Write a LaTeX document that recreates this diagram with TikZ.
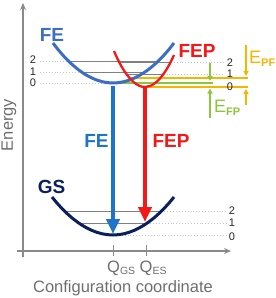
\documentclass[tikz,border=0pt]{standalone}
\usepackage{fontspec}
\setmainfont{Liberation Sans}
\usetikzlibrary{arrows.meta}
\definecolor{feblue}{HTML}{3D6EC6}
\definecolor{arrowblue}{HTML}{1E74C8}
\definecolor{fepred}{HTML}{F41818}
\definecolor{gsnavy}{HTML}{0B1F5E}
\definecolor{axisgray}{HTML}{8A8A8A}
\definecolor{textgray}{HTML}{6E6E6E}
\definecolor{efpgreen}{HTML}{8CC63F}
\definecolor{epforange}{HTML}{F7B500}

\begin{document}
\begin{tikzpicture}[x=1pt, y=-1pt, >=Stealth,
  axis/.style={draw=axisgray, line width=1.6pt},
  curve/.style={line width=3pt},
  level/.style={draw=gray, line width=1pt},
  guide/.style={draw=gray!45, dotted, line width=0.9pt},
  vib/.style={font=\fontsize{11}{12}\selectfont, text=black!85, inner sep=0pt},
  big/.style={font=\fontsize{19}{21}\selectfont\bfseries, inner sep=0pt, anchor=base},
  axislabel/.style={font=\fontsize{16.5}{18}\selectfont, text=textgray, inner sep=0pt},
  transition/.style={line width=3.8pt, -{Triangle[width=13pt,length=15pt]}},
  gap/.style={line width=1.3pt, -{Triangle[width=5pt,length=5pt]}}]
  \useasboundingbox (0,0) rectangle (276,298);

  \coordinate (ybot) at (23,257);
  \coordinate (ytop) at (23,3);
  \coordinate (xbeg) at (17,251);
  \coordinate (xend) at (231,251);
  \draw[axis, -{Stealth[length=7pt,width=6pt]}] (ybot) -- (ytop);
  \draw[axis, -{Stealth[length=7pt,width=6pt]}] (xbeg) -- (xend);
  \draw[axis, line width=1pt] (113,245) -- (113,256);
  \draw[axis, line width=1pt] (146,245) -- (146,256);

  \node[axislabel, rotate=90] (energy) at (9,125) {Energy};
  \node[axislabel, anchor=base] (config) at (123,292) {Configuration coordinate};
  \node[axislabel, anchor=base west] (qgs) at (107,272) {Q\raisebox{-2.5pt}{\fontsize{10.5}{11}\selectfont GS}};
  \node[axislabel, anchor=base west] (qes) at (139.5,272) {Q\raisebox{-2.5pt}{\fontsize{10.5}{11}\selectfont ES}};

  \draw[guide] (40,61) -- (68.5,61);
  \draw[guide] (40,72) -- (81.5,72);
  \draw[guide] (40,83) -- (113,83);
  \draw[level] (68.5,61) -- (157.5,61);
  \draw[level] (81.5,72) -- (144.5,72);
  \draw[level] (119.2,62) -- (170.8,62);
  \draw[level] (126.4,74) -- (163.6,74);
  \draw[guide] (170.8,62) -- (224,62);
  \draw[guide] (163.6,74) -- (224,74);
  \draw[draw=epforange, line width=1.4pt] (130,78) -- (248,78);
  \draw[draw=efpgreen, line width=1.2pt] (113,83) -- (213,83);
  \draw[draw=epforange, line width=1.4pt] (145,87) -- (248,87);

  \draw[level] (64.5,211) -- (161.5,211);
  \draw[level] (78.7,223) -- (147.3,223);
  \draw[guide] (161.5,211) -- (227,211);
  \draw[guide] (147.3,223) -- (227,223);
  \draw[guide] (113,235) -- (227,235);

  \node[vib] (fe2) at (33,60) {2};
  \node[vib] (fe1) at (33,72) {1};
  \node[vib] (fe0) at (33,83) {0};
  \node[vib] (fep2) at (230,63) {2};
  \node[vib] (fep1) at (230,74) {1};
  \node[vib] (fep0) at (230,87) {0};
  \node[vib] (gs2) at (232,211) {2};
  \node[vib] (gs1) at (232,223) {1};
  \node[vib] (gs0) at (232,237) {0};

  \draw[curve, feblue] (53,43) parabola bend (113,83) (174,43);
  \draw[curve, fepred, line width=2.3pt] (114,51) parabola bend (145,87) (174,55);
  \draw[curve, gsnavy] (52,197) parabola bend (113,235) (174,197);

  \node[big, feblue] (felabel) at (52,41) {FE};
  \node[big, fepred] (feplabel) at (197,57) {FEP};
  \node[big, gsnavy] (gslabel) at (51.5,193) {GS};

  \coordinate (feupper) at (113,86);
  \coordinate (felower) at (113,234);
  \coordinate (fepupper) at (145,88);
  \coordinate (feplower) at (145,222);
  \draw[transition, arrowblue] (feupper) -- (felower);
  \draw[transition, fepred] (fepupper) -- (feplower);
  \node[big, arrowblue] (fearrow) at (96.5,147) {FE};
  \node[big, fepred] (feparrow) at (171,147) {FEP};

  \coordinate (efptop) at (210,63);
  \coordinate (efpmid) at (210,81);
  \coordinate (efpbot) at (210,118);
  \coordinate (efpend) at (210,88.5);
  \draw[gap, efpgreen] (efptop) -- (efpmid);
  \draw[gap, efpgreen] (efpbot) -- (efpend);
  \coordinate (epftop) at (246,45);
  \coordinate (epfmid) at (246,76);
  \coordinate (epfbot) at (246,105);
  \coordinate (epfend) at (246,89);
  \draw[gap, epforange] (epftop) -- (epfmid);
  \draw[gap, epforange] (epfbot) -- (epfend);

  \node[anchor=base west, inner sep=0pt, text=epforange, font=\fontsize{18}{20}\selectfont] (epf) at (249,63) {E\raisebox{-3pt}{\fontsize{11}{12}\selectfont\bfseries PF}};
  \node[anchor=base west, inner sep=0pt, text=efpgreen, font=\fontsize{18}{20}\selectfont] (efp) at (214,112) {E\raisebox{-3pt}{\fontsize{11}{12}\selectfont\bfseries FP}};
\end{tikzpicture}
\end{document}
